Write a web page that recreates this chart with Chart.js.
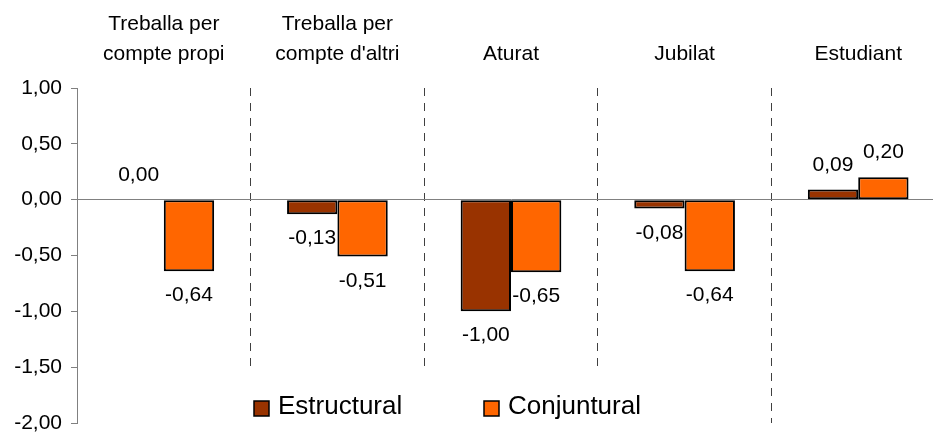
<!DOCTYPE html>
<html>
<head>
<meta charset="utf-8">
<script src="https://cdn.jsdelivr.net/npm/chart.js@4"></script>
<style>
html, body { margin: 0; padding: 0; overflow: hidden; background: #ffffff; width: 933px; height: 432px; }
#wrap { position: absolute; left: 0; top: 0; width: 946px; height: 432px; }
canvas { display: block; }
</style>
</head>
<body>
<div id="wrap"><canvas id="chart" width="946" height="432"></canvas></div>
<script>
// ---- data ----
const categories = [["Treballa per", "compte propi"], ["Treballa per", "compte d'altri"], "Aturat", "Jubilat", "Estudiant"];
const seriesNames = ["Estructural", "Conjuntural"];
const estructural = [0.00, -0.13, -1.00, -0.08, 0.09];
const conjuntural = [-0.64, -0.51, -0.65, -0.64, 0.20];
const yTickValues = [1.00, 0.50, 0.00, -0.50, -1.00, -1.50, -2.00];
const seriesColors = ["#993300", "#FF6600"];

const FONT = '"Liberation Sans", Arial, Helvetica, sans-serif';
const fmt = v => v.toFixed(2).replace('.', ',');

const valueLabels = {
  id: 'valueLabels',
  afterDatasetsDraw(chart) {
    const ctx = chart.ctx;
    ctx.save();
    ctx.font = '21px ' + FONT;
    ctx.fillStyle = '#000000';
    ctx.textAlign = 'center';
    ctx.textBaseline = 'alphabetic';
    chart.data.datasets.forEach((ds, di) => {
      chart.getDatasetMeta(di).data.forEach((el, i) => {
        const v = ds.data[i];
        const y = v < 0 ? el.y + 30 : el.y - 19;
        ctx.fillText(fmt(v), el.x, y);
      });
    });
    ctx.restore();
  }
};

const boxLegend = {
  id: 'boxLegend',
  afterDraw(chart) {
    const { ctx, chartArea } = chart;
    const top = chartArea.bottom - 51;
    ctx.save();
    ctx.fillStyle = '#ffffff';
    ctx.fillRect(chartArea.left + 163, top, 410, chartArea.bottom - top);
    const items = [
      { bx: chartArea.left + 177, tx: chartArea.left + 201 },
      { bx: chartArea.left + 407, tx: chartArea.left + 431 }
    ];
    ctx.font = '26px ' + FONT;
    ctx.textAlign = 'left';
    ctx.textBaseline = 'alphabetic';
    chart.data.datasets.forEach((ds, i) => {
      const it = items[i];
      ctx.fillStyle = ds.backgroundColor;
      ctx.fillRect(it.bx, top + 29, 15, 15);
      ctx.lineWidth = 1.5;
      ctx.strokeStyle = '#000000';
      ctx.strokeRect(it.bx, top + 29, 15, 15);
      ctx.fillStyle = '#000000';
      ctx.fillText(ds.label, it.tx, top + 42);
    });
    ctx.restore();
  }
};

new Chart(document.getElementById('chart'), {
  type: 'bar',
  data: {
    labels: categories,
    datasets: [
      { label: seriesNames[0], data: estructural, backgroundColor: seriesColors[0] },
      { label: seriesNames[1], data: conjuntural, backgroundColor: seriesColors[1] }
    ]
  },
  options: {
    responsive: false,
    animation: false,
    devicePixelRatio: 1,
    layout: { padding: { left: 0, right: 1, top: 0, bottom: 9 } },
    datasets: {
      bar: {
        barPercentage: 1,
        categoryPercentage: 0.58,
        borderColor: '#000000',
        borderWidth: 2,
        borderSkipped: false
      }
    },
    plugins: {
      legend: { display: false },
      tooltip: { enabled: false }
    },
    scales: {
      x: {
        position: 'top',
        offset: true,
        afterFit: s => { s.height = 88; s.paddingLeft = 0; s.paddingRight = 0; },
        grid: {
          display: true,
          offset: true,
          drawTicks: false,
          lineWidth: 1,
          color: c => (c.index > 0 && c.index < categories.length) ? '#404040' : 'rgba(0,0,0,0)'
        },
        border: { display: false, dash: [8, 7] },
        ticks: {
          color: '#000000',
          font: { family: FONT, size: 21, lineHeight: 1.43 },
          padding: 19,
          maxRotation: 0,
          autoSkip: false
        }
      },
      y: {
        min: -2,
        max: 1,
        afterFit: s => { s.width = 77; s.paddingTop = 0; s.paddingBottom = 0; },
        afterBuildTicks: s => { s.ticks = yTickValues.map(v => ({ value: v })); },
        grid: {
          display: true,
          drawTicks: true,
          tickLength: 6,
          tickColor: '#808080',
          lineWidth: 1,
          color: c => (c.tick && c.tick.value === 0) ? '#808080' : 'rgba(0,0,0,0)'
        },
        border: { display: true, color: '#808080', width: 1 },
        ticks: {
          color: '#000000',
          font: { family: FONT, size: 21, lineHeight: 1.2 },
          padding: 9,
          callback: v => fmt(v)
        }
      }
    }
  },
  plugins: [valueLabels, boxLegend]
});
</script>
</body>
</html>
